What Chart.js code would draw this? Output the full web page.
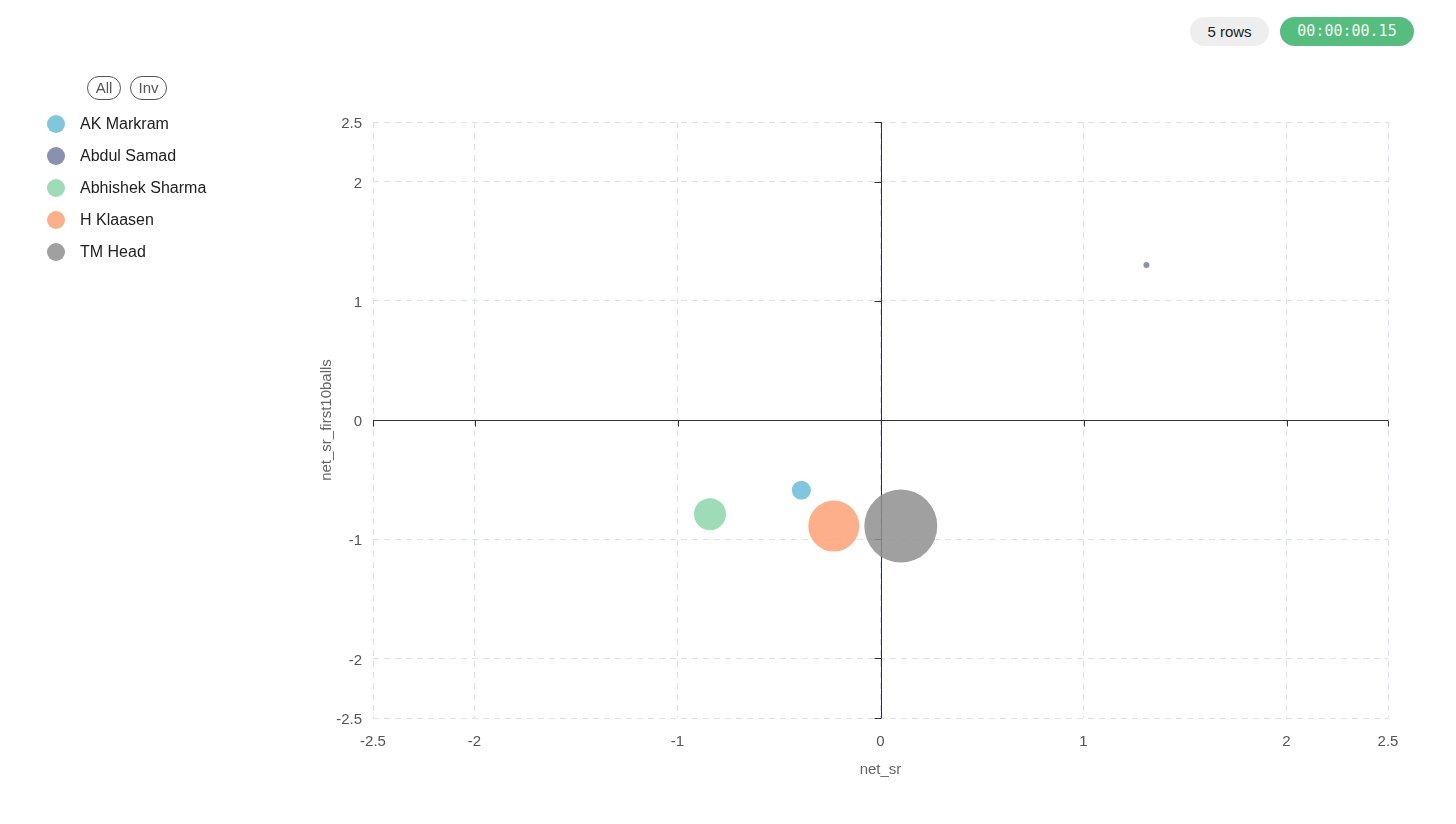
<!doctype html>
<html>
  <head>
    <title>net_sr vs net_sr_first10balls</title>
    <style>
      body { margin: 0; background: #fff; font-family: "Liberation Sans", Arial, sans-serif; }
      #wrap { position: relative; width: 1456px; height: 824px; overflow: hidden; }
      #myChart { position: absolute; left: 0; top: 0; }
      .badge { position: absolute; top: 17px; height: 29px; line-height: 29px; border-radius: 15px; font-size: 15px; text-align: center; }
      #rows { left: 1190px; width: 79px; background: #eeeeee; color: #222; }
      #time { left: 1280px; width: 134px; background: #55bd7e; color: #f2faf5; font-family: "DejaVu Sans Mono", monospace; font-size: 15px; }
      .btn { position: absolute; top: 76px; height: 22px; line-height: 22px; border: 1px solid #555; border-radius: 12px; color: #555; font-size: 15px; text-align: center; }
      #legend { position: absolute; left: 0; top: 0; }
      .item { position: absolute; left: 47px; height: 20px; line-height: 20px; font-size: 16px; color: #222; white-space: nowrap; }
      .dot { position: absolute; left: 0; top: 1px; width: 18px; height: 18px; border-radius: 50%; }
      .item span.lbl { position: absolute; left: 33px; top: 0; }
    </style>
  </head>
  <body>
    <div id="wrap">
      <canvas id="myChart" width="1456" height="824"></canvas>
      <div class="badge" id="rows">5 rows</div>
      <div class="badge" id="time">00:00:00.15</div>
      <div class="btn" style="left:87px;width:32px;">All</div>
      <div class="btn" style="left:130px;width:35px;">Inv</div>
      <div id="legend"></div>
    </div>
  </body>
  <script src="https://cdn.jsdelivr.net/npm/chart.js"></script>
  <script>
    const players = ['AK Markram', 'Abdul Samad', 'Abhishek Sharma', 'H Klaasen', 'TM Head'];
    const netSr = [-0.39, 1.31, -0.84, -0.23, 0.10];
    const netSrFirst10 = [-0.59, 1.30, -0.79, -0.89, -0.89];
    const bubbleSize = [9.5, 3, 16, 25.5, 36.5];
    const tickValues = [-2.5, -2, -1, 0, 1, 2, 2.5];
    const colors = [
      'rgba(104,188,217,0.85)',
      'rgba(115,126,162,0.85)',
      'rgba(141,213,170,0.85)',
      'rgba(253,161,117,0.85)',
      'rgba(143,143,143,0.85)'
    ];

    // legend (html, left side)
    const legend = document.getElementById('legend');
    for (let i = 0; i < players.length; ++i) {
      const el = document.createElement('div');
      el.className = 'item';
      el.style.top = (114 + i * 32) + 'px';
      el.innerHTML = '<div class="dot" style="background:' + colors[i] + '"></div><span class="lbl">' + players[i] + '</span>';
      legend.appendChild(el);
    }

    // zero axis lines with small tick marks
    const zeroAxes = {
      id: 'zeroAxes',
      beforeDatasetsDraw(chart) {
        const c = chart.ctx;
        const xs = chart.scales.x, ys = chart.scales.y;
        const x0 = Math.round(xs.getPixelForValue(0)) + 0.5;
        const y0 = Math.round(ys.getPixelForValue(0)) + 0.5;
        c.save();
        c.strokeStyle = '#333';
        c.lineWidth = 1;
        c.beginPath();
        c.moveTo(xs.left, y0); c.lineTo(xs.right, y0);
        c.moveTo(x0, ys.top); c.lineTo(x0, ys.bottom);
        tickValues.forEach(v => {
          const px = Math.round(xs.getPixelForValue(v)) + 0.5;
          c.moveTo(px, y0); c.lineTo(px, y0 + 6);
          const py = Math.round(ys.getPixelForValue(v)) + 0.5;
          c.moveTo(x0, py); c.lineTo(x0 - 7, py);
        });
        c.stroke();
        c.restore();
      }
    };

    const tickFont = { family: '"Liberation Sans", Arial, sans-serif', size: 15 };
    const gridOpts = { color: '#dde1ee', lineWidth: 1, drawTicks: false };

    const ctx = document.getElementById('myChart');
    const chart = new Chart(ctx, {
      type: 'bubble',
      data: {
        datasets: players.map((p, i) => ({
          label: p,
          data: [{ x: netSr[i], y: netSrFirst10[i], r: bubbleSize[i] }],
          backgroundColor: colors[i],
          borderWidth: 0,
          hoverBorderWidth: 0
        }))
      },
      options: {
        responsive: false,
        animation: false,
        layout: { padding: { left: 318, right: 68, top: 122, bottom: 45 } },
        plugins: { legend: { display: false }, tooltip: { enabled: false } },
        scales: {
          x: {
            type: 'linear', min: -2.5, max: 2.5,
            afterBuildTicks: s => { s.ticks = tickValues.map(v => ({ value: v })); },
            afterFit: s => { s.height = 61; },
            grid: gridOpts,
            border: { display: false, dash: [6, 5] },
            ticks: { padding: 15, color: '#555', font: tickFont, callback: v => String(v) },
            title: { display: true, text: 'net_sr', color: '#666', font: tickFont, padding: 0 }
          },
          y: {
            type: 'linear', min: -2.5, max: 2.5,
            afterBuildTicks: s => { s.ticks = tickValues.map(v => ({ value: v })); },
            afterFit: s => { s.width = 55; },
            grid: gridOpts,
            border: { display: false, dash: [6, 5] },
            ticks: { padding: 11, labelOffset: 2, color: '#555', font: tickFont, callback: v => String(v) },
            title: { display: true, text: 'net_sr_first10balls', color: '#666', font: tickFont, padding: 0 }
          }
        }
      },
      plugins: [zeroAxes]
    });
  </script>
</html>
